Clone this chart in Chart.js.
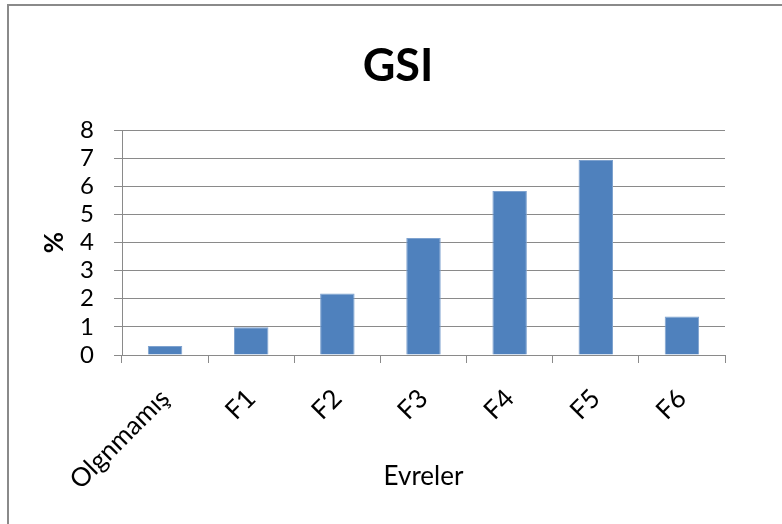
<!DOCTYPE html>
<html>
<head>
<meta charset="utf-8">
<script src="https://cdn.jsdelivr.net/npm/chart.js@4/dist/chart.umd.min.js"></script>
<style>
  html, body { margin: 0; padding: 0; background: #fff; }
  #wrap { width: 782px; height: 524px; position: relative; }
</style>
</head>
<body>
<div id="wrap"><canvas id="c" width="782" height="524"></canvas></div>
<script>
// GSI (%) by maturation stage
const stages = ['Olgnmamış', 'F1', 'F2', 'F3', 'F4', 'F5', 'F6'];
const gsiValues = [0.32, 0.99, 2.19, 4.16, 5.83, 6.93, 1.37];
const yTicks = [0, 1, 2, 3, 4, 5, 6, 7, 8];

const FONT = 'Lato, "Open Sans", sans-serif';
const PAD = { left: 30, right: 57, top: 39, bottom: 20 };

// thin gray frame around the chart (top and left edges visible)
const framePlugin = {
  id: 'frame',
  afterLayout(chart) {
    // centre the main title over the whole framed area
    if (chart.titleBlock) {
      chart.titleBlock.left = 14;
      chart.titleBlock.right = chart.width;
    }
  },
  beforeDraw(chart) {
    const ctx = chart.ctx;
    ctx.save();
    ctx.fillStyle = '#fff';
    ctx.fillRect(0, 0, chart.width, chart.height);
    ctx.strokeStyle = '#8a8a8a';
    ctx.lineWidth = 2;
    ctx.beginPath();
    ctx.moveTo(8, chart.height);
    ctx.lineTo(8, 5);
    ctx.lineTo(chart.width, 5);
    ctx.stroke();
    ctx.restore();
  }
};

new Chart(document.getElementById('c'), {
  type: 'bar',
  data: {
    labels: stages,
    datasets: [{
      data: gsiValues,
      backgroundColor: '#4F81BD',
      borderColor: '#7ea2cf',
      borderWidth: 1,
      categoryPercentage: 1,
      barPercentage: 0.4
    }]
  },
  options: {
    responsive: false,
    animation: false,
    devicePixelRatio: 1,
    layout: { padding: PAD },
    plugins: {
      legend: { display: false },
      tooltip: { enabled: false },
      title: {
        display: true,
        text: 'GSI',
        color: '#000',
        font: { family: FONT, size: 45, weight: 'bold', lineHeight: 1.2 },
        padding: { top: 0, bottom: 37 }
      }
    },
    scales: {
      x: {
        offset: true,
        afterFit(scale) { scale.height = 524 - PAD.bottom - 355; },
        grid: {
          display: true,
          offset: true,
          drawOnChartArea: false,
          drawTicks: true,
          tickLength: 8,
          color: '#8a8a8a',
          lineWidth: 1
        },
        border: { color: '#8a8a8a', width: 1 },
        ticks: {
          color: '#000',
          font: { family: FONT, size: 26 },
          minRotation: 45,
          maxRotation: 45,
          autoSkip: false,
          padding: 20
        },
        title: {
          display: true,
          text: 'Evreler',
          color: '#000',
          font: { family: FONT, size: 26, lineHeight: 1.2 },
          padding: { top: 0, bottom: 12 }
        }
      },
      y: {
        min: 0,
        max: 8,
        afterBuildTicks(scale) { scale.ticks = yTicks.map(v => ({ value: v })); },
        afterFit(scale) { scale.width = 122 - PAD.left; },
        grid: {
          color: '#8a8a8a',
          lineWidth: 1,
          tickLength: 8
        },
        border: { color: '#8a8a8a', width: 1 },
        ticks: {
          color: '#000',
          font: { family: FONT, size: 24 },
          autoSkip: false,
          padding: 20
        },
        title: {
          display: true,
          text: '%',
          color: '#000',
          font: { family: FONT, size: 26, weight: 'bold', lineHeight: 1.2 },
          padding: { top: 9, bottom: 0 }
        }
      }
    }
  },
  plugins: [framePlugin]
});
</script>
</body>
</html>
